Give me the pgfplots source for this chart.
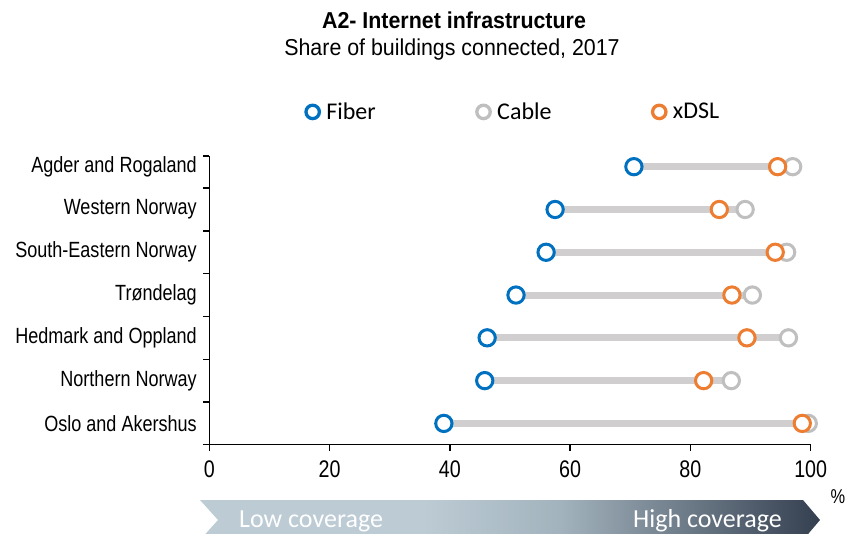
\documentclass[border=0pt]{standalone}
\usepackage{pgfplots}
\pgfplotsset{compat=1.18}
\usepackage{pgfplotstable}
\usepackage{fontspec}
\setmainfont{Liberation Sans}
\newfontfamily\arialn[FakeStretch=0.82]{Liberation Sans}
\newfontfamily\arialt[FakeStretch=0.93]{Liberation Sans}
\newfontfamily\calib{Carlito}
\definecolor{fiberC}{HTML}{0070C0}
\definecolor{cableC}{HTML}{BFBFBF}
\definecolor{xdslC}{HTML}{ED7D31}
\definecolor{barC}{HTML}{D0CECE}
\definecolor{arL}{HTML}{BCCBD4}
\definecolor{arM}{HTML}{A3B3BD}
\definecolor{arR}{HTML}{343F50}
\pgfdeclarehorizontalshading{covshade}{100bp}{color(0bp)=(arL); color(25bp)=(arL); color(43bp)=(arL); color(54bp)=(arM); color(75bp)=(arR); color(100bp)=(arR)}

\pgfplotstableread{
y fiber cable xdsl
6.5 70.6 97.0 94.5
5.5 57.5 89.1 84.8
4.5 56.0 96.0 94.1
3.5 51.0 90.3 86.9
2.5 46.2 96.3 89.4
1.5 45.8 86.8 82.2
0.5 39.0 99.6 98.6
}\data

\begin{document}
\begin{tikzpicture}
\useasboundingbox (0pt,0pt) rectangle (848pt,533pt);
\begin{axis}[
  at={(209.3pt,88.2pt)}, anchor=south west,
  scale only axis, width=601.4pt, height=288.8pt,
  xmin=0, xmax=100, ymin=0, ymax=6.75,
  axis x line*=bottom, axis y line*=left,
  axis line style={-, line width=1.3pt, black},
  xtick={0,20,...,100},
  xticklabel style={font=\arialn\fontsize{24}{24}\selectfont, yshift=-6pt},
  ytick={0,1,2,3,4,5,6,6.75}, yticklabels={},
  extra y ticks={0.5,1.5,2.5,3.5,4.5,5.5,6.5},
  extra y tick labels={Oslo and Akershus,Northern Norway,Hedmark and Oppland,Tr\o ndelag,South-Eastern Norway,Western Norway,Agder and Rogaland},
  extra y tick style={major tick length=0pt, yticklabel style={xshift=-9pt}},
  tick align=outside, major tick length=6pt,
  tick style={line width=1.3pt, black},
  /pgf/number format/assume math mode=true,
  yticklabel style={font=\arialn\fontsize{22}{22}\selectfont},
  clip=false,
  legend columns=3,
  legend style={at={(0.506,1.1526)}, anchor=center, draw=none, fill=none,
    font=\calib\fontsize{24}{24}\selectfont,
    /tikz/every odd column/.append style={column sep=5pt},
    /tikz/every even column/.append style={column sep=99pt},
    nodes={inner xsep=2pt}},
  legend image code/.code={\draw[only marks,#1] plot coordinates {(0pt,0pt)};},
]
\addlegendimage{only marks, mark=*, mark size=6.7pt, mark options={draw=fiberC, fill=white, line width=3.3pt}}
\addlegendentry{Fiber}
\addlegendimage{only marks, mark=*, mark size=6.7pt, mark options={draw=cableC, fill=white, line width=3.3pt}}
\addlegendentry{Cable}
\addlegendimage{only marks, mark=*, mark size=6.7pt, mark options={draw=xdslC, fill=white, line width=3.3pt}}
\addlegendentry{xDSL}
\addplot[forget plot, draw=none, mark=none,
  error bars/.cd, x dir=plus, x explicit, error mark=none,
  error bar style={line width=7pt, barC}]
  table[x=fiber, y=y, x error expr=\thisrow{cable}-\thisrow{fiber}] {\data};
\addplot[forget plot, only marks, mark=*, mark size=8.15pt, mark options={draw=cableC, fill=white, line width=3pt}] table[x=cable, y=y] {\data};
\addplot[forget plot, only marks, mark=*, mark size=8.15pt, mark options={draw=xdslC, fill=white, line width=3pt}] table[x=xdsl, y=y] {\data};
\addplot[forget plot, only marks, mark=*, mark size=8.15pt, mark options={draw=fiberC, fill=white, line width=3pt}] table[x=fiber, y=y] {\data};
\end{axis}
\node[font=\arialt\bfseries\fontsize{23}{23}\selectfont] at (454pt,513pt) {A2- Internet infrastructure};
\node[font=\arialt\fontsize{23}{23}\selectfont] at (452pt,483pt) {Share of buildings connected, 2017};
\node[font=\arialn\fontsize{20}{20}\selectfont] at (838pt,36pt) {\%};
\shade[shading=covshade] (200pt,33pt) -- (803pt,33pt) -- (820pt,13pt) -- (803pt,-7pt) -- (200pt,-7pt) -- (218pt,13pt) -- cycle;
\node[anchor=west, font=\calib\fontsize{26}{26}\selectfont, text=white, inner sep=0pt] at (239pt,12pt) {Low coverage};
\node[anchor=east, font=\calib\fontsize{26}{26}\selectfont, text=white, inner sep=0pt] at (782pt,12pt) {High coverage};
\end{tikzpicture}
\end{document}
